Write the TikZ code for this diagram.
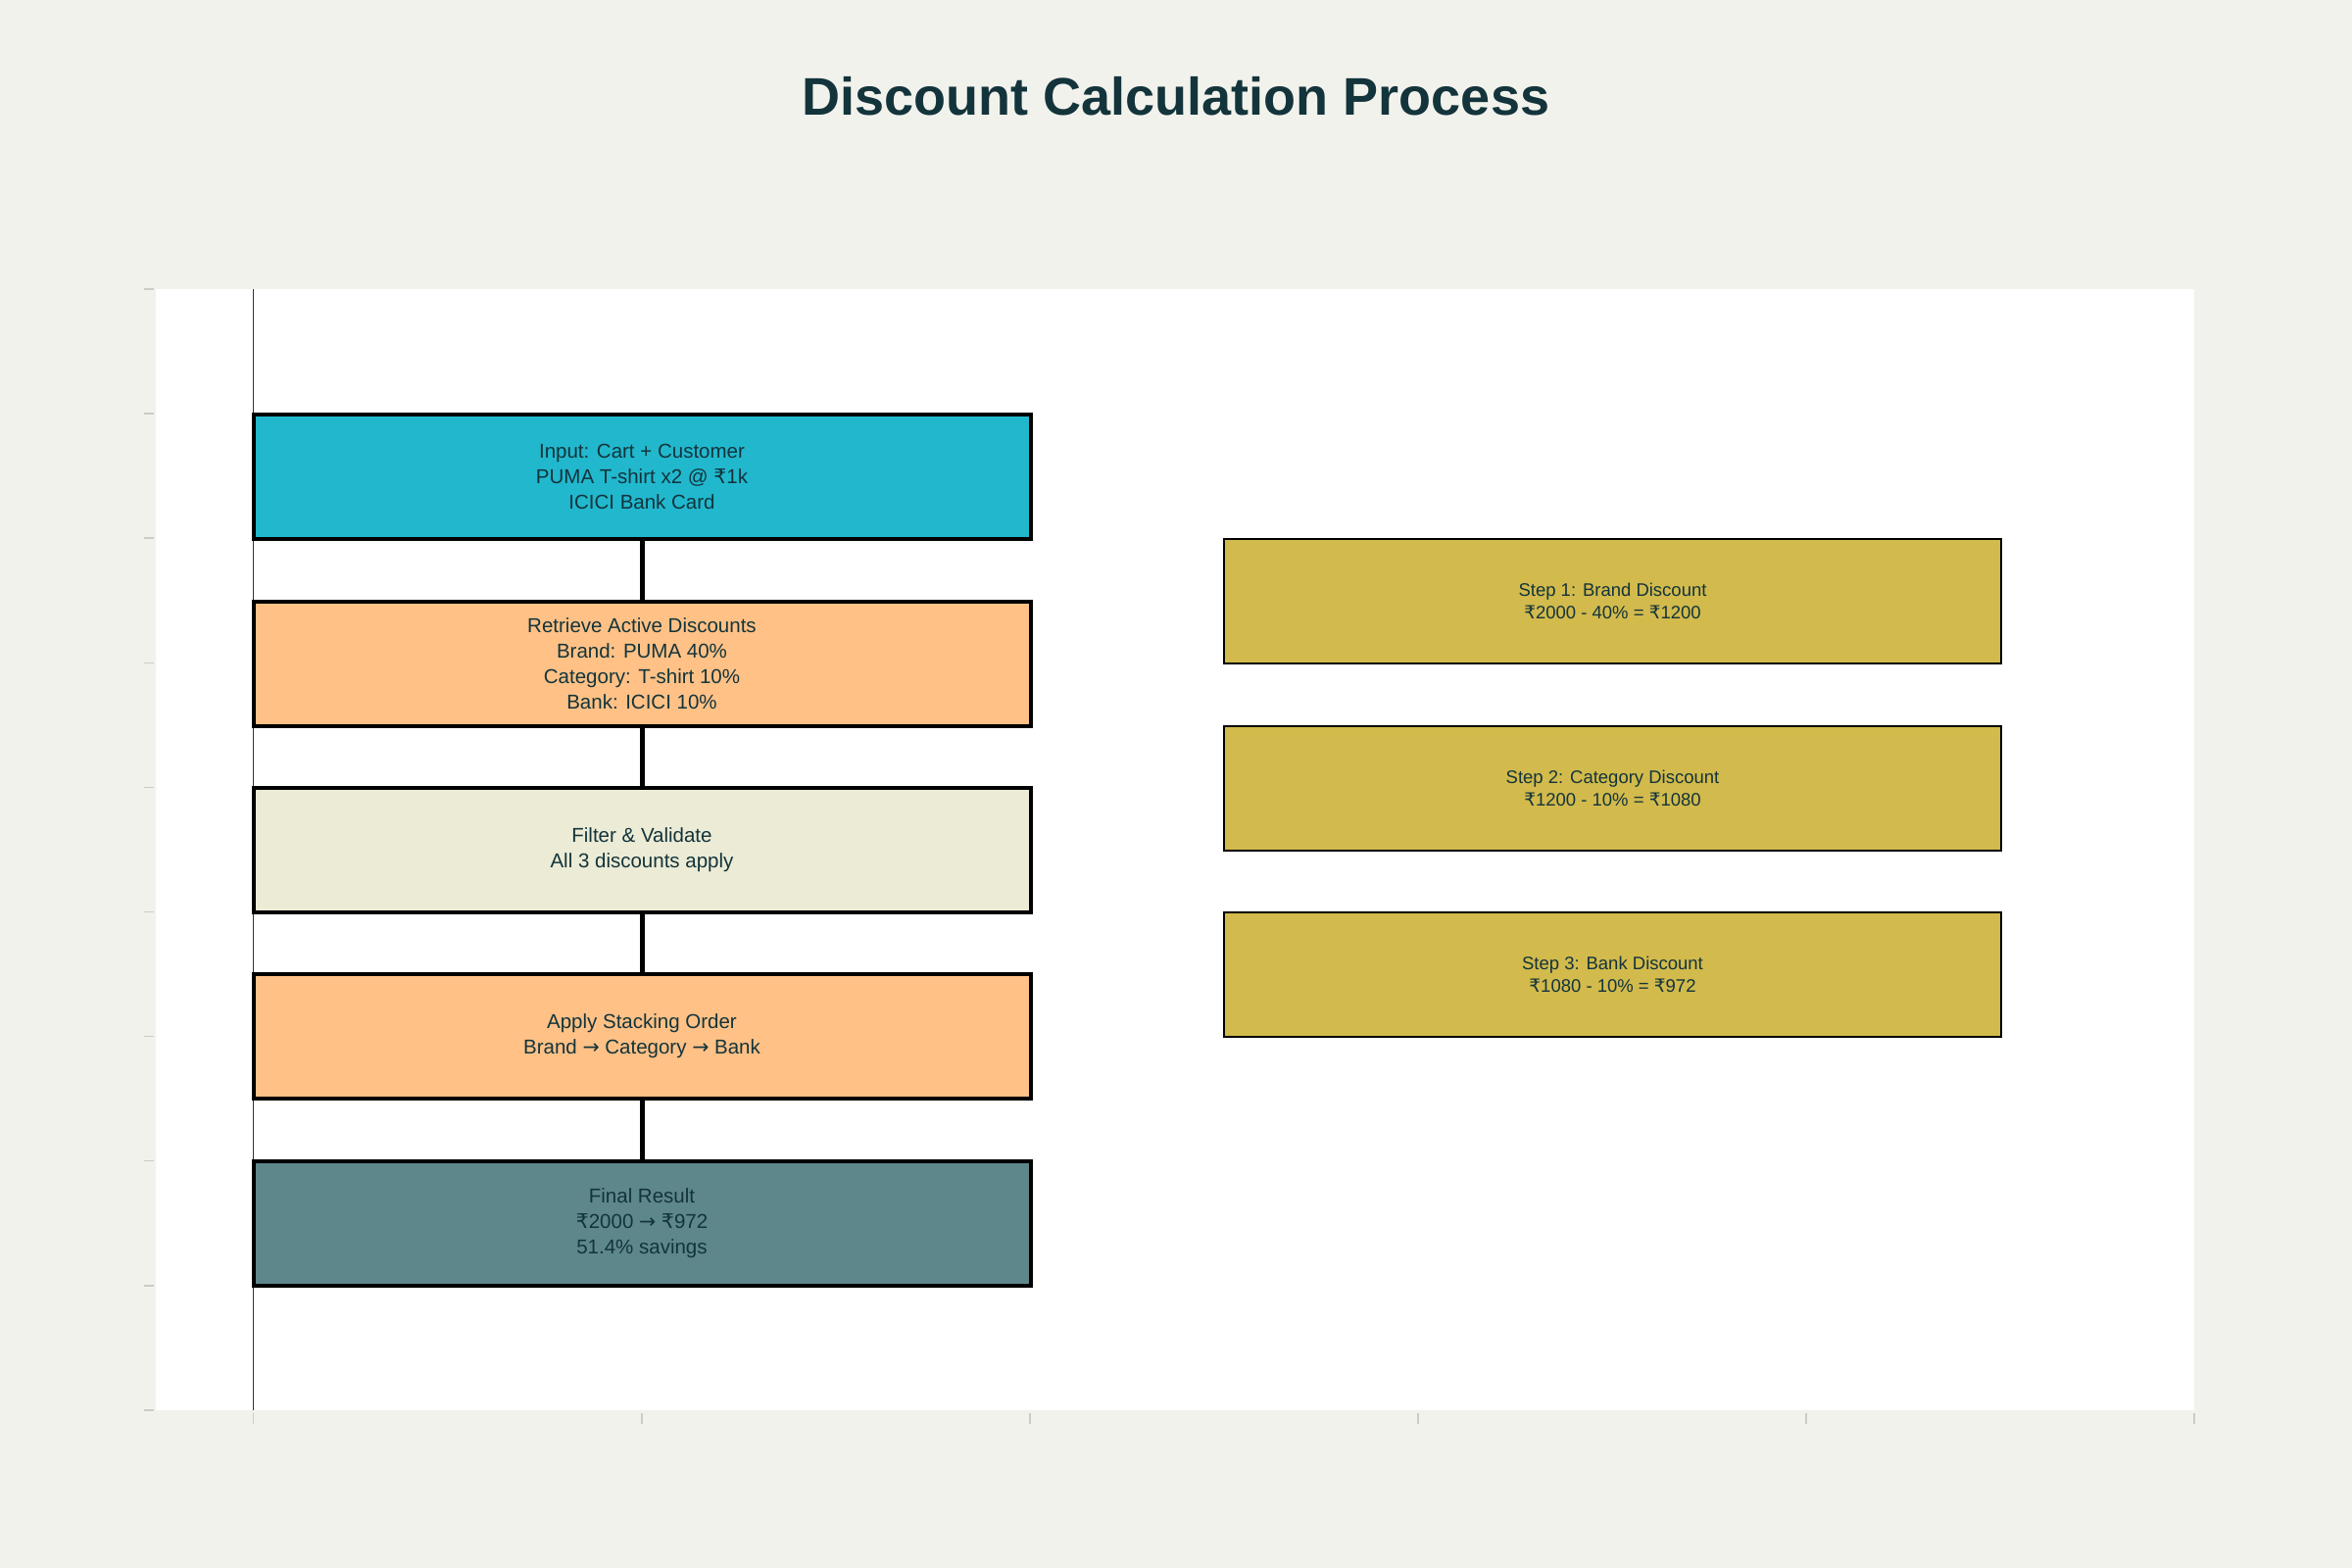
\documentclass[tikz,border=0pt]{standalone}
\usepackage{fontspec}
\setmainfont{Liberation Sans}
\newfontfamily\symf{DejaVu Sans}
\newcommand\rs{{\symf ₹}}
\newcommand\arr{{\symf →}}
\definecolor{bg}{HTML}{F2F2EC}
\definecolor{txt}{HTML}{13343B}
\definecolor{cyanb}{HTML}{21B8CE}
\definecolor{peach}{HTML}{FFC186}
\definecolor{creamb}{HTML}{ECEBD5}
\definecolor{slateb}{HTML}{5D878B}
\definecolor{goldb}{HTML}{D2BA4C}
\definecolor{tickc}{HTML}{CCCCC6}
\definecolor{axisc}{HTML}{333333}
\begin{document}
\begin{tikzpicture}[x=1pt,y=-1pt,
  lbox/.style={draw=black,line width=4pt,minimum width=793pt,minimum height=127pt,
    inner sep=0pt,align=center,text=txt,font=\fontsize{20.5}{26}\selectfont},
  rbox/.style={draw=black,line width=2pt,fill=goldb,minimum width=793pt,minimum height=127pt,
    inner sep=0pt,align=center,text=txt,font=\fontsize{18.5}{23}\selectfont},
  conn/.style={line width=5pt,black},
  tick/.style={tickc,line width=1.5pt}]
\useasboundingbox (0,0) rectangle (2400,1600);
\fill[bg] (0,0) rectangle (2400,1600);
\fill[white] (159,295) rectangle (2239,1439);
% title
\node[text=txt,font=\fontsize{54}{60}\selectfont\bfseries] (title) at (1200,98) {Discount Calculation Process};
% ticks
\foreach \k in {0,...,9} {\draw[tick] (147,295+\k*127.1) -- (157,295+\k*127.1);}
\foreach \k in {0,...,5} {\draw[tick] (258.7+\k*396.06,1442) -- (258.7+\k*396.06,1453);}
% y axis line
\coordinate (axtop) at (258.7,295);
\coordinate (axbot) at (258.7,1439);
\draw[axisc,line width=1.5pt] (axtop) -- (axbot);
% left boxes
\node[lbox,fill=cyanb] (b1) at (655,486) {Input: Cart + Customer\\PUMA T-shirt x2 @ \rs1k\\ICICI Bank Card};
\node[lbox,fill=peach] (b2) at (655,677) {Retrieve Active Discounts\\Brand: PUMA 40\%\\Category: T-shirt 10\%\\Bank: ICICI 10\%};
\node[lbox,fill=creamb] (b3) at (655,867) {Filter \& Validate\\All 3 discounts apply};
\node[lbox,fill=peach] (b4) at (655,1057.5) {Apply Stacking Order\\Brand \arr{} Category \arr{} Bank};
\node[lbox,fill=slateb] (b5) at (655,1248) {Final Result\\\rs2000 \arr{} \rs972\\51.4\% savings};
\draw[conn] (b1.south) -- (b2.north);
\draw[conn] (b2.south) -- (b3.north);
\draw[conn] (b3.south) -- (b4.north);
\draw[conn] (b4.south) -- (b5.north);
% right boxes
\node[rbox] (s1) at (1645.5,613) {Step 1: Brand Discount\\\rs2000 - 40\% = \rs1200};
\node[rbox] (s2) at (1645.5,804.5) {Step 2: Category Discount\\\rs1200 - 10\% = \rs1080};
\node[rbox] (s3) at (1645.5,994) {Step 3: Bank Discount\\\rs1080 - 10\% = \rs972};
\end{tikzpicture}
\end{document}
